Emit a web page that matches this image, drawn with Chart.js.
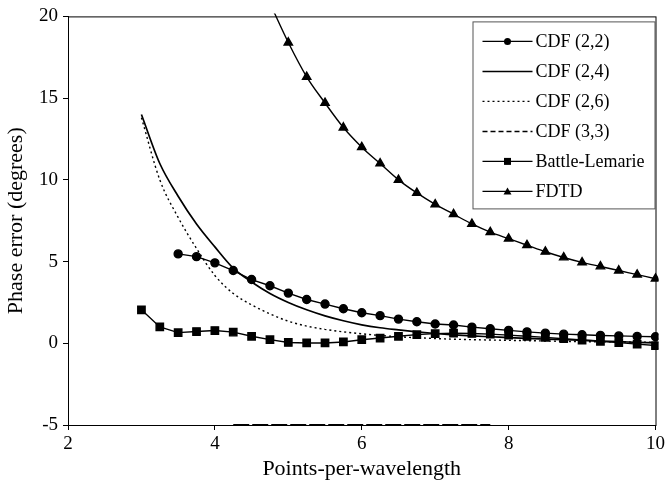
<!DOCTYPE html>
<html>
<head>
<meta charset="utf-8">
<script src="https://cdn.jsdelivr.net/npm/chart.js@4.4.1/dist/chart.umd.min.js"></script>
<style>
  html, body { margin: 0; padding: 0; background: #fff; }
  #wrap { width: 668px; height: 483px; }
</style>
</head>
<body>
<div id="wrap"><canvas id="chart" width="668" height="483"></canvas></div>
<script>
// points-per-wavelength sampled every 0.25
const ppw = [3, 3.25, 3.5, 3.75, 4, 4.25, 4.5, 4.75, 5, 5.25, 5.5, 5.75, 6, 6.25, 6.5,
  6.75, 7, 7.25, 7.5, 7.75, 8, 8.25, 8.5, 8.75, 9, 9.25, 9.5, 9.75, 10]

const cdf22 = [null, null, 5.47, 5.3, 4.92, 4.45, 3.9, 3.52, 3.07, 2.68, 2.4, 2.11, 1.87, 1.69, 1.48,
  1.32, 1.18, 1.12, 0.99, 0.89, 0.79, 0.7, 0.62, 0.56, 0.52, 0.48, 0.45, 0.42, 0.4]
const cdf24 = [14.0, 11.0, 9.0, 7.3, 5.9, 4.6, 3.75, 3.05, 2.5, 2.05, 1.68, 1.38, 1.13, 0.95, 0.82,
  0.7, 0.6, 0.52, 0.45, 0.4, 0.35, 0.3, 0.26, 0.22, 0.18, 0.14, 0.1, 0.06, 0.02]
const cdf26 = [13.8, 10.0, 7.7, 5.8, 4.15, 3.05, 2.35, 1.8, 1.35, 1.05, 0.85, 0.7, 0.58, 0.48, 0.4,
  0.34, 0.29, 0.25, 0.22, 0.2, 0.18, 0.16, 0.14, 0.12, 0.1, 0.09, 0.08, 0.07, 0.06]
// off-scale below the axis minimum, so it sits on the bottom edge
const cdf33 = [null, null, null, null, null, -5, -5, -5, -5, -5, -5, -5, -5, -5, -5,
  -5, -5, -5, -5, -5, null, null, null, null, null, null, null, null, null]
const battle = [2.05, 1.0, 0.65, 0.72, 0.78, 0.68, 0.43, 0.22, 0.05, 0.02, 0.02, 0.08, 0.22, 0.32, 0.43,
  0.53, 0.59, 0.62, 0.6, 0.56, 0.5, 0.43, 0.36, 0.28, 0.2, 0.12, 0.04, -0.05, -0.14]
const fdtd = [null, null, null, null, null, null, null, 20.8, 18.4, 16.3, 14.7, 13.2, 12.0, 11.0, 10.0,
  9.2, 8.5, 7.9, 7.3, 6.8, 6.4, 6.0, 5.6, 5.25, 4.95, 4.7, 4.45, 4.2, 3.95]

const seriesNames = ["CDF (2,2)", "CDF (2,4)", "CDF (2,6)", "CDF (3,3)", "Battle-Lemarie", "FDTD"]
const xTicks = [2, 4, 6, 8, 10]
const yTicks = [-5, 0, 5, 10, 15, 20]

const serif = "'Liberation Serif', 'Times New Roman', serif"

function pts(vals) {
  const out = []
  vals.forEach((v, i) => { if (v !== null) out.push({ x: ppw[i], y: v }) })
  return out
}

function series(label, vals, extra) {
  return Object.assign({
    label: label,
    data: pts(vals),
    borderColor: "#000",
    backgroundColor: "#000",
    borderWidth: 1.4,
    pointRadius: 0,
    tension: 0,
    clip: 3
  }, extra)
}

const datasets = [
  series(seriesNames[0], cdf22, { pointStyle: "circle", pointRadius: 4 }),
  series(seriesNames[1], cdf24, { borderWidth: 1.7, cubicInterpolationMode: "monotone" }),
  series(seriesNames[2], cdf26, { borderWidth: 1.4, borderDash: [2, 3], cubicInterpolationMode: "monotone" }),
  series(seriesNames[3], cdf33, { borderWidth: 2, borderDash: [16, 3], clip: false }),
  series(seriesNames[4], battle, { pointStyle: "rect", pointRadius: 5.2 }),
  series(seriesNames[5], fdtd, { pointStyle: "triangle", pointRadius: 4.8, cubicInterpolationMode: "monotone" })
]

// box round the plot area
const frame = {
  id: "frame",
  afterDatasetsDraw(chart) {
    const { ctx, chartArea: a } = chart
    ctx.save()
    ctx.strokeStyle = "#000"
    ctx.lineWidth = 1
    ctx.strokeRect(a.left + 0.5, a.top + 0.5, a.right - a.left, a.bottom - a.top)
    ctx.restore()
  }
}

// legend drawn inside the plot, top right, like the original
const insideLegend = {
  id: "insideLegend",
  afterDraw(chart) {
    const { ctx, chartArea: a } = chart
    const w = 182, h = 187, rowH = 30
    const x0 = a.right - w - 1, y0 = a.top + 5
    ctx.save()
    ctx.fillStyle = "#fff"
    ctx.fillRect(x0, y0, w, h)
    ctx.strokeStyle = "#555"
    ctx.lineWidth = 1
    ctx.strokeRect(x0 + 0.5, y0 + 0.5, w, h)
    ctx.font = "18px " + serif
    ctx.textBaseline = "middle"
    chart.data.datasets.forEach((ds, i) => {
      const cy = y0 + 20 + i * rowH
      const lx1 = x0 + 10, lx2 = x0 + 60
      ctx.strokeStyle = "#000"
      ctx.lineWidth = Math.min(ds.borderWidth, 1.5)
      ctx.setLineDash(ds.borderDash ? (i === 3 ? [5, 3] : ds.borderDash) : [])
      ctx.beginPath()
      ctx.moveTo(lx1, cy)
      ctx.lineTo(lx2, cy)
      ctx.stroke()
      ctx.setLineDash([])
      const mx = (lx1 + lx2) / 2
      ctx.fillStyle = "#000"
      if (ds.pointRadius > 0) {
        ctx.beginPath()
        if (ds.pointStyle === "circle") {
          ctx.arc(mx, cy, 3.5, 0, Math.PI * 2)
        } else if (ds.pointStyle === "rect") {
          ctx.rect(mx - 3.5, cy - 3.5, 7, 7)
        } else {
          ctx.moveTo(mx, cy - 4)
          ctx.lineTo(mx + 4, cy + 3)
          ctx.lineTo(mx - 4, cy + 3)
          ctx.closePath()
        }
        ctx.fill()
      }
      ctx.fillText(ds.label, lx2 + 3, cy + 1)
    })
    ctx.restore()
  }
}

new Chart(document.getElementById("chart"), {
  type: "line",
  data: { datasets: datasets },
  plugins: [frame, insideLegend],
  options: {
    responsive: false,
    animation: false,
    events: [],
    layout: { padding: { top: 15, right: 8, left: 0, bottom: 0 } },
    plugins: { legend: { display: false }, tooltip: { enabled: false } },
    scales: {
      x: {
        type: "linear",
        min: 2, max: 10,
        afterBuildTicks(scale) { scale.ticks = xTicks.map(v => ({ value: v })) },
        afterFit(scale) { scale.height = 58 },
        ticks: { color: "#000", font: { family: serif, size: 19 }, padding: 3 },
        grid: { drawOnChartArea: false, drawTicks: true, tickLength: 5, color: "#000" },
        border: { color: "#000", width: 1 },
        title: { display: true, text: "Points-per-wavelength", color: "#000",
          font: { family: serif, size: 22 }, padding: { top: 0, bottom: 1 } }
      },
      y: {
        min: -5, max: 20,
        afterBuildTicks(scale) { scale.ticks = yTicks.map(v => ({ value: v })) },
        afterFit(scale) { scale.width = 68 },
        ticks: { color: "#000", font: { family: serif, size: 19 }, padding: 5 },
        grid: { drawOnChartArea: false, drawTicks: true, tickLength: 5, color: "#000" },
        border: { color: "#000", width: 1 },
        title: { display: true, text: "Phase error (degrees)", color: "#000",
          font: { family: serif, size: 22 }, padding: { top: 3, bottom: 0 } }
      }
    }
  }
})
</script>
</body>
</html>
